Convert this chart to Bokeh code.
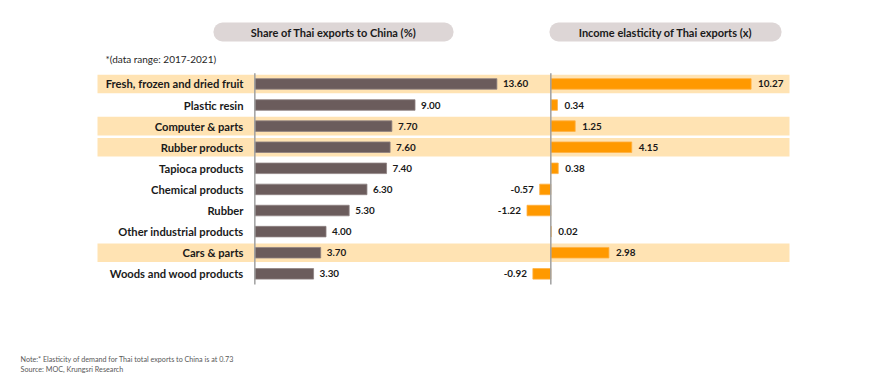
from bokeh.plotting import figure
from bokeh.models import Range1d, ColumnDataSource
from bokeh.embed import file_html
from bokeh.resources import INLINE
from bokeh.core.properties import value

categories = ["Fresh, frozen and dried fruit", "Plastic resin", "Computer & parts",
              "Rubber products", "Tapioca products", "Chemical products", "Rubber",
              "Other industrial products", "Cars & parts", "Woods and wood products"]
share = [13.60, 9.00, 7.70, 7.60, 7.40, 6.30, 5.30, 4.00, 3.70, 3.30]
elasticity = [10.27, 0.34, 1.25, 4.15, 0.38, -0.57, -1.22, 0.02, 2.98, -0.92]
highlight = [True, False, True, True, False, False, False, False, True, False]
share_title = "Share of Thai exports to China (%)"
elas_title = "Income elasticity of Thai exports (x)"
range_note = "*(data range: 2017-2021)"
note_lines = ["Note:* Elasticity of demand for Thai total exports to China is at 0.73",
              "Source: MOC, Krungsri Research"]

W, H = 860, 378
FONT = value("Lato")
DARK = "#1a1a1a"

idx = list(range(len(categories)))
src = ColumnDataSource(dict(
    y=idx, cat=categories, share=share, el=elasticity,
    share_lbl=[f"{v:.2f}" for v in share],
))
hl_rows = [i for i in idx if highlight[i]]
pos = [i for i in idx if elasticity[i] >= 0]
neg = [i for i in idx if elasticity[i] < 0]
pos_src = ColumnDataSource(dict(y=pos, x=[elasticity[i] for i in pos],
                                t=[f"{elasticity[i]:.2f}" for i in pos]))
neg_src = ColumnDataSource(dict(y=neg, x=[elasticity[i] for i in neg],
                                t=[f"{elasticity[i]:.2f}" for i in neg]))

p = figure(width=W, height=H, output_backend="svg", toolbar_location=None,
           x_range=Range1d(-14.29, 34.03), y_range=Range1d(13.96, -3.953),
           x_axis_type=None, y_axis_type=None, min_border=0)
p.extra_x_ranges = {"el": Range1d(-28.22, 15.88), "px": Range1d(0, W)}
p.extra_y_ranges = {"py": Range1d(H, 0)}
p.outline_line_color = None
p.grid.visible = False
p.background_fill_color = "white"

# highlight bands
p.hbar(y=hl_rows, left=97, right=789, height=0.88, x_range_name="px",
       fill_color="#FFE3B3", line_color=None)

# share bars
p.hbar(y="y", left=0, right="share", height=0.5, source=src,
       fill_color="#6B5C5C", line_color="#8E8282", line_width=0.8)
# elasticity bars
p.hbar(y="y", left=0, right="el", height=0.5, source=src, x_range_name="el",
       fill_color="#FF9900", line_color="#FFB040", line_width=0.8)

# zero lines
p.segment(x0=0, x1=0, y0=-0.5, y1=len(categories) - 0.5, line_color="#A0A0A0", line_width=1.5)
p.segment(x0=0, x1=0, y0=-0.5, y1=len(categories) - 0.5, line_color="#A0A0A0", line_width=1.5,
          x_range_name="el")

# category labels
p.text(x=243, y="y", text="cat", source=src, x_range_name="px", text_align="right",
       text_baseline="middle", text_font=FONT, text_font_style="bold",
       text_font_size="11.2px", text_color=DARK)

# value labels
p.text(x="share", y="y", text="share_lbl", source=src, x_offset=6, text_align="left",
       text_baseline="middle", text_font=FONT, text_font_style="bold",
       text_font_size="9.9px", text_color=DARK)
p.text(x="x", y="y", text="t", source=pos_src, x_range_name="el", x_offset=7,
       text_align="left", text_baseline="middle", text_font=FONT,
       text_font_style="bold", text_font_size="9.9px", text_color=DARK)
p.text(x="x", y="y", text="t", source=neg_src, x_range_name="el", x_offset=-6,
       text_align="right", text_baseline="middle", text_font=FONT,
       text_font_style="bold", text_font_size="9.9px", text_color=DARK)

# title pills
p.quad(left=[213, 549], right=[453, 781], top=[22, 22], bottom=[41, 41],
       x_range_name="px", y_range_name="py", fill_color="#DDD6D6", line_color=None,
       border_radius=9)
p.text(x=[333, 665], y=[31.5, 31.5], text=[share_title, elas_title],
       x_range_name="px", y_range_name="py", text_align="center", text_baseline="middle",
       text_font=FONT, text_font_style="bold", text_font_size="11px", text_color=DARK)

# data range note
p.text(x=[105], y=[58], text=[range_note], x_range_name="px", y_range_name="py",
       text_align="left", text_baseline="middle", text_font=FONT,
       text_font_size="10px", text_color="#262626")

# footnotes
p.text(x=[20, 20], y=[359, 369], text=note_lines, x_range_name="px", y_range_name="py",
       text_align="left", text_baseline="middle", text_font=FONT,
       text_font_size="7.2px", text_color="#595959")

open("out.html", "w").write(file_html(p, INLINE))
